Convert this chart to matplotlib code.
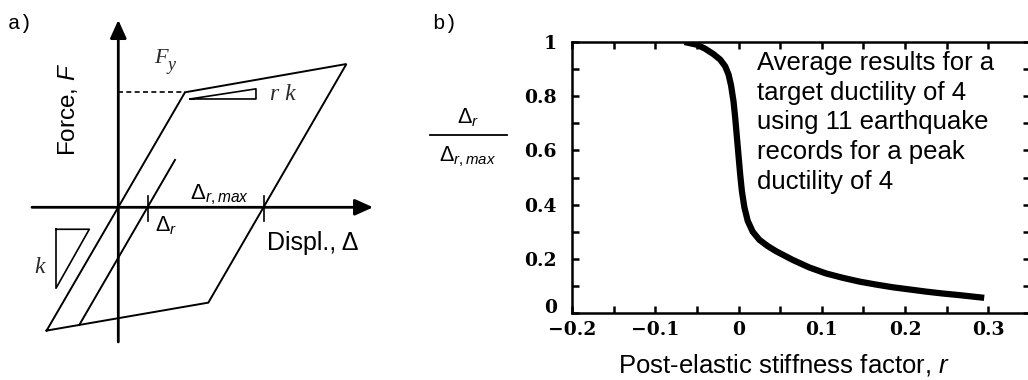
import matplotlib
matplotlib.use('Agg')
import matplotlib.pyplot as plt
from matplotlib.lines import Line2D

# ---------------- data ----------------
# Panel a) schematic bilinear hysteresis loop (displacement / yield displ., force / yield force)
loop_disp = [-1.075, 1.0, 3.42, 1.35, -1.075]
loop_force = [-1.072, 1.0, 1.246, -0.829, -1.072]
inner_disp = [-0.585, 0.85]
inner_force = [-1.023, 0.412]
yield_disp = 1.0
yield_force = 1.0
resid_disp = 0.44          # Delta_r
resid_max_disp = 2.18      # Delta_r,max
axis_disp_range = [-1.294, 3.82]
axis_force_range = [-1.171, 1.629]
rk_tri_disp = [1.075, 2.064, 2.064, 1.075]
rk_tri_force = [0.942, 0.942, 1.03, 0.942]
k_tri_disp = [-0.934, -0.435, -0.934, -0.934]
k_tri_force = [-0.191, -0.191, -0.704, -0.191]

# Panel b) residual displacement ratio vs post-elastic stiffness factor
r_values = [-0.065, -0.05, -0.04, -0.03, -0.022, -0.016, -0.012, -0.009, -0.006, -0.004,
            -0.002, 0.0, 0.002, 0.004, 0.007, 0.011, 0.017, 0.025, 0.035, 0.045,
            0.065, 0.085, 0.105, 0.125, 0.145, 0.165, 0.185, 0.205, 0.225, 0.245,
            0.265, 0.28, 0.295]
ratio_values = [1.0, 0.99, 0.975, 0.955, 0.935, 0.91, 0.88, 0.84, 0.78, 0.72,
                0.65, 0.58, 0.51, 0.45, 0.39, 0.34, 0.30, 0.27, 0.247, 0.228,
                0.196, 0.168, 0.146, 0.13, 0.116, 0.105, 0.095, 0.087, 0.079, 0.072,
                0.066, 0.061, 0.056]
x_tick_values = [-0.2, -0.1, 0.0, 0.1, 0.2, 0.3]
x_tick_labels = ['\u22120.2', '\u22120.1', '0', '0.1', '0.2', '0.3']
x_minor_values = [-0.15, -0.05, 0.05, 0.15, 0.25]
y_tick_values = [0.0, 0.2, 0.4, 0.6, 0.8, 1.0]
y_tick_labels = ['0', '0.2', '0.4', '0.6', '0.8', '1']
y_minor_values = [0.1, 0.3, 0.5, 0.7, 0.9]
note_lines = ['Average results for a', 'target ductility of 4',
              'using 11 earthquake', 'records for a peak', 'ductility of 4']

# ---------------- style ----------------
plt.rcParams['font.family'] = ['Liberation Sans', 'DejaVu Sans']
plt.rcParams['mathtext.fontset'] = 'custom'
plt.rcParams['mathtext.rm'] = 'Liberation Sans'
plt.rcParams['mathtext.it'] = 'Liberation Sans:italic'
plt.rcParams['mathtext.bf'] = 'Liberation Sans:bold'

W, H = 1028, 380
fig = plt.figure(figsize=(W / 100, H / 100), dpi=100)


def fx(px):
    return px / W


def fy(py):
    return 1 - py / H


MONO = ['Liberation Mono', 'DejaVu Sans Mono']
SERIF = ['Liberation Serif', 'DejaVu Serif']

# ---------------- panel a ----------------
ax1 = fig.add_axes([0, 0, 420 / W, 1])
ax1.set_axis_off()
ox, oy, sx, sy = 118.3, 207.3, 66.7, 115.0
ax1.set_xlim(-ox / sx, (420 - ox) / sx)
ax1.set_ylim(-(380 - oy) / sy, oy / sy)

arrow_kw = dict(arrowstyle='-|>,head_length=1.0,head_width=0.45', mutation_scale=11,
                lw=2.0, color='k', shrinkA=0, shrinkB=0)
ax1.annotate('', xy=(axis_disp_range[1], 0), xytext=(axis_disp_range[0], 0), arrowprops=arrow_kw)
ax1.annotate('', xy=(0, axis_force_range[1]), xytext=(0, axis_force_range[0]), arrowprops=arrow_kw)

ax1.plot(loop_disp, loop_force, color='k', lw=1.4, solid_joinstyle='miter')
ax1.plot(inner_disp, inner_force, color='k', lw=1.4)
ax1.plot([0, yield_disp], [yield_force, yield_force], color='k', lw=1.2, ls=(0, (3, 2)))
ax1.plot(rk_tri_disp, rk_tri_force, color='k', lw=1.2)
ax1.plot(k_tri_disp, k_tri_force, color='k', lw=1.2)
for d in (resid_disp, resid_max_disp):
    ax1.plot([d, d], [0.095, -0.115], color='k', lw=1.2)

txt_col = '#2a2a2a'
ax1.text(0.54, 1.255, 'F', fontfamily=SERIF, fontstyle='italic', fontsize=16,
         ha='left', va='baseline', color=txt_col)
ax1.text(0.74, 1.19, 'y', fontfamily=SERIF, fontstyle='italic', fontsize=13,
         ha='left', va='baseline', color=txt_col)
ax1.text(2.28, 0.933, 'r k', fontfamily=SERIF, fontstyle='italic', fontsize=17,
         ha='left', va='baseline', color=txt_col)
ax1.text(-1.26, -0.574, 'k', fontfamily=SERIF, fontstyle='italic', fontsize=17,
         ha='left', va='baseline', color=txt_col)
ax1.text(0.55, -0.212, '\u0394$_r$', fontsize=15.5, ha='left', va='baseline')
ax1.text(1.075, 0.072, '\u0394$_{r,max}$', fontsize=16, ha='left', va='baseline')
ax1.text(2.225, -0.371, 'Displ., \u0394', fontsize=18, ha='left', va='baseline')
ax1.text(-0.754, 0.855, 'Force, $F$', fontsize=17.5, rotation=90, ha='center', va='center')

fig.text(fx(8), fy(29.3), 'a)', fontfamily=MONO, fontsize=15, va='baseline', ha='left')
fig.text(fx(432), fy(29.3), 'b)', fontfamily=MONO, fontsize=15, va='baseline', ha='left')

# ---------------- panel b ----------------
ax2 = fig.add_axes([fx(572), fy(313), (1030 - 572) / W, (313 - 42) / H])
ax2.plot(r_values, ratio_values, color='k', lw=4.5, solid_capstyle='butt',
         solid_joinstyle='round')
ax2.set_xlim(-0.2, 0.35)
ax2.set_ylim(0, 1)
for s in ax2.spines.values():
    s.set_linewidth(1.8)
tick_font = dict(fontfamily='DejaVu Serif', fontweight='bold', fontsize=13.5)
ax2.set_xticks(x_tick_values)
ax2.set_xticklabels(x_tick_labels, **tick_font)
ax2.set_xticks(x_minor_values, minor=True)
ax2.set_yticks(y_tick_values)
ax2.set_yticklabels(y_tick_labels, **tick_font)
ax2.set_yticks(y_minor_values, minor=True)
ax2.tick_params(which='both', direction='in', top=True, right=True, length=5, width=1.8)
ax2.tick_params(axis='x', pad=6)
ax2.tick_params(axis='y', pad=11)
ax2.get_yticklabels()[0].set_verticalalignment('baseline')

fig.text(fx(757), fy(51), '\n'.join(note_lines), fontsize=18.5, ha='left', va='top',
         linespacing=1.3)
fig.text(fx(784), fy(373), 'Post-elastic stiffness factor, $r$', fontsize=18.5,
         ha='center', va='baseline')

fig.text(fx(468), fy(123), '\u0394$_r$', fontsize=15.5, ha='center', va='baseline')
fig.add_artist(Line2D([fx(430), fx(507)], [fy(135), fy(135)], lw=1.3, color='k',
                      transform=fig.transFigure))
fig.text(fx(468), fy(161), '\u0394$_{r,max}$', fontsize=15.5, ha='center', va='baseline')

fig.savefig('out.png', dpi=100)
